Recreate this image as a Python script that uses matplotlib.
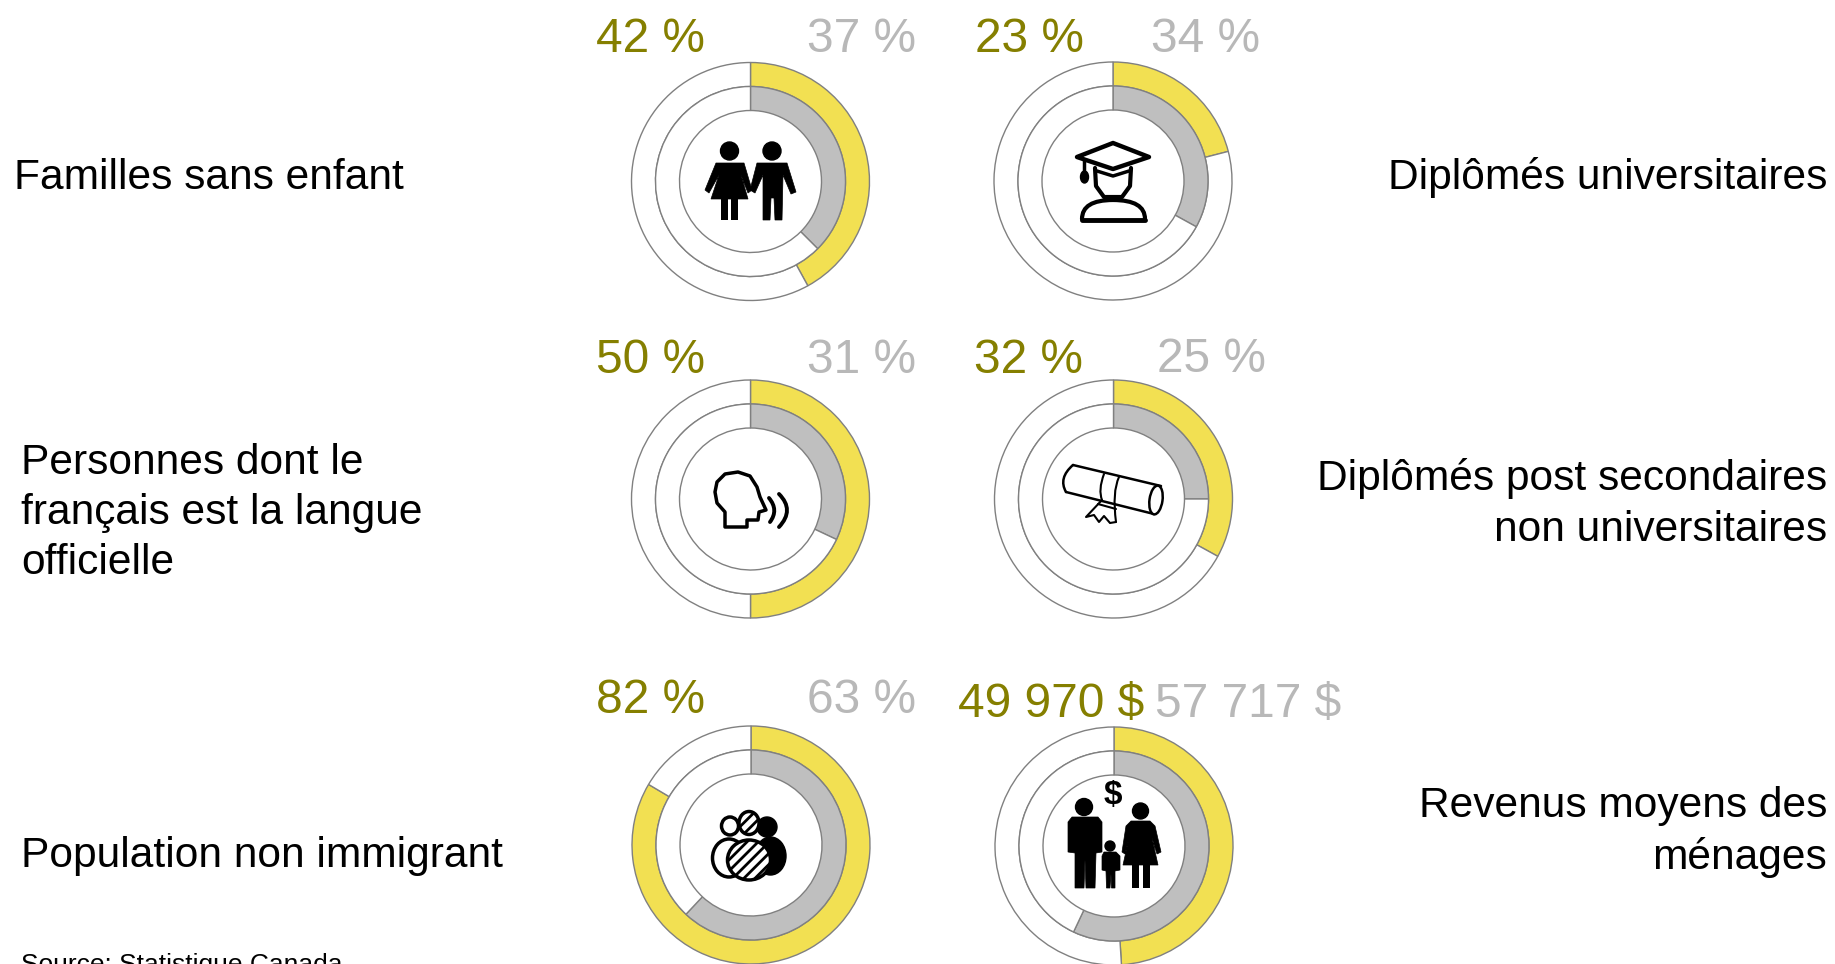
import matplotlib
matplotlib.use('Agg')
import matplotlib.pyplot as plt
from matplotlib.patches import Circle, Ellipse, Polygon, Rectangle, PathPatch
from matplotlib.path import Path

W = 1835
H = 964

plt.rcParams['font.family'] = ['Liberation Sans', 'DejaVu Sans']
plt.rcParams['hatch.linewidth'] = 2

# share of each ring as drawn, clockwise from 12 o'clock
outer_vals = [42, 21, 50, 33, 83.5, 49]
inner_vals = [37.5, 33, 32, 25, 62, 57]
outer_labels = ['42 %', '23 %', '50 %', '32 %', '82 %', '49 970 $']
inner_labels = ['37 %', '34 %', '31 %', '25 %', '63 %', '57 717 $']
left_labels = ['Familles sans enfant', 'Personnes dont le\nfrançais est la langue\nofficielle', 'Population non immigrant']
right_labels = ['Diplômés universitaires', 'Diplômés post secondaires\nnon universitaires', 'Revenus moyens des\nménages']
source = 'Source: Statistique Canada'

centers = [(750.5, 181.5), (1113, 181), (750.5, 499), (1113.5, 499), (751, 845), (1114, 846)]
outer_label_pos = [(596, 52), (975, 52), (596, 373), (974, 373), (596, 713), (958, 717)]
inner_label_pos = [(807, 52), (1151, 52), (807, 373), (1157, 372), (807, 713), (1155, 717)]

YELLOW = '#F2E052'
GREY = '#BFBFBF'
EDGE = '#808080'
OLIVE = '#857F00'
LIGHT = '#B8B8B8'

fig = plt.figure(figsize=(W / 100, H / 100), dpi=100)
ax = fig.add_axes([0, 0, 1, 1])


def Y(y):
    return H - y


def pts(points):
    return [(x, Y(y)) for x, y in points]


def ring(val, c, r, color):
    ax.pie([val, 100 - val], colors=[color, 'white'], startangle=90, counterclock=False,
           center=(c[0], Y(c[1])), radius=r, frame=True,
           wedgeprops=dict(width=24, edgecolor=EDGE, linewidth=1))


def poly(points):
    ax.add_patch(Polygon(pts(points), closed=True, facecolor='black', edgecolor='black', linewidth=0.5))


def head(x, y, r):
    ax.add_patch(Circle((x, Y(y)), r, color='black'))


def bar(x0, y0, x1, y1):
    ax.add_patch(Rectangle((x0, Y(y1)), x1 - x0, y1 - y0, color='black', linewidth=0))


def curve(points, lw=2.5):
    codes = [Path.MOVETO] + [Path.CURVE3] * (len(points) - 1)
    ax.add_patch(PathPatch(Path(pts(points), codes), facecolor='none', edgecolor='black', linewidth=lw,
                           capstyle='round', joinstyle='round'))


def line(points, lw=2.5, closed=False, fc='none'):
    ax.add_patch(Polygon(pts(points), closed=closed, facecolor=fc, edgecolor='black', linewidth=lw,
                         joinstyle='round', capstyle='round'))


def couple_icon():
    head(729.5, 151, 9)
    poly([(716, 163), (744, 163), (752, 190), (748, 193), (741, 175), (748, 199), (711, 199),
          (719, 175), (709, 193), (705, 190)])
    bar(720.5, 199, 728, 220)
    bar(730.5, 199, 738, 220)
    head(772, 151, 9)
    poly([(757, 163), (787, 163), (796, 192), (791, 194), (783, 175), (782, 220), (775, 220),
          (774, 198), (771, 198), (770, 220), (763, 220), (763, 175), (755, 193), (750, 190)])


def cap_icon():
    line([(1095, 168), (1096, 186), (1104, 197), (1122, 197), (1130, 186), (1131, 168)], lw=3)
    curve([(1082, 219), (1082, 200), (1113, 200), (1145, 200), (1145, 219)], lw=3)
    line([(1082, 220), (1145, 220)], lw=3.5)
    line([(1113, 143), (1149, 157), (1113, 169), (1077, 157)], lw=3.2, closed=True, fc='white')
    line([(1084, 160), (1084, 176)], lw=2.5)
    ax.add_patch(Ellipse((1084.5, Y(177)), 8, 12, color='black'))
    line([(1097, 171), (1113, 176), (1129, 171)], lw=2.5)


def speech_icon():
    line([(725, 527), (725, 512), (717, 503), (715, 492), (717, 482), (725, 474), (738, 472),
          (750, 476), (757, 487), (760, 497), (766, 510), (759, 512), (758, 520), (747, 520),
          (747, 527)], lw=2.5, closed=True)
    curve([(769, 498), (779, 510), (770, 522)], lw=2.8)
    curve([(779, 494), (795, 510), (779, 527)], lw=2.8)


def diploma_icon():
    line([(1073, 465), (1161, 486)], lw=1.8)
    line([(1066, 492), (1154, 514)], lw=1.8)
    curve([(1073, 465), (1058, 478), (1066, 492)], lw=1.8)
    ax.add_patch(Ellipse((1156, Y(500)), 13, 29, angle=-8, facecolor='white', edgecolor='black', linewidth=1.8))
    curve([(1104, 474), (1098, 490), (1102, 500)], lw=1.5)
    curve([(1119, 477), (1112, 492), (1116, 522)], lw=1.5)
    line([(1102, 500), (1086, 517), (1094, 515), (1099, 522), (1104, 516), (1110, 523), (1116, 522)], lw=1.5)
    line([(1098, 504), (1116, 509)], lw=1.5)


def group_icon():
    ax.add_patch(Ellipse((770.5, Y(856)), 31, 38, color='black'))
    head(767, 827, 10)
    ax.add_patch(Ellipse((729, Y(858)), 33, 38, facecolor='white', edgecolor='black', linewidth=2.5))
    ax.add_patch(Ellipse((730, Y(826)), 17, 18, facecolor='white', edgecolor='black', linewidth=2.5))
    ax.add_patch(Ellipse((749, Y(860)), 43, 40, facecolor='white', edgecolor='black', linewidth=2.5, hatch='///'))
    ax.add_patch(Ellipse((749, Y(823)), 20, 23, facecolor='white', edgecolor='black', linewidth=2.5, hatch='///'))


def family_icon():
    ax.text(1113, Y(804), '$', fontsize=24, fontweight='bold', ha='center', va='baseline', color='black')
    head(1084, 807, 8.5)
    poly([(1072, 817), (1098, 817), (1102, 822), (1102, 852), (1096, 853), (1095, 888), (1086, 888),
          (1085, 860), (1084, 888), (1075, 888), (1075, 853), (1068, 852), (1068, 822)])
    head(1140.5, 811, 8)
    poly([(1131, 821), (1150, 821), (1155, 826), (1161, 852), (1157, 854), (1152, 838), (1158, 865),
          (1123, 865), (1129, 838), (1125, 854), (1122, 852), (1126, 826)])
    bar(1132, 865, 1139, 888)
    bar(1143, 865, 1150, 888)
    head(1110, 846, 5)
    poly([(1104, 852), (1116, 852), (1120, 856), (1120, 870), (1115, 871), (1115, 888), (1111.5, 888),
          (1111, 874), (1110, 888), (1106.5, 888), (1106, 871), (1102, 870), (1102, 856)])


for i, c in enumerate(centers):
    ring(outer_vals[i], c, 119, YELLOW)
    ring(inner_vals[i], c, 95, GREY)

ax.set_xlim(0, W)
ax.set_ylim(0, H)
ax.set_aspect('auto')
ax.axis('off')

for draw in [couple_icon, cap_icon, speech_icon, diploma_icon, group_icon, family_icon]:
    draw()

for (x, y), s in zip(outer_label_pos, outer_labels):
    ax.text(x, Y(y), s, fontsize=34.5, color=OLIVE, ha='left', va='baseline')
for (x, y), s in zip(inner_label_pos, inner_labels):
    ax.text(x, Y(y), s, fontsize=34.5, color=LIGHT, ha='left', va='baseline')

ax.text(14, Y(178), left_labels[0], fontsize=30.6, ha='left', va='center')
ax.text(21, Y(513), left_labels[1], fontsize=30.6, ha='left', va='center', linespacing=1.33)
ax.text(21, Y(856), left_labels[2], fontsize=30.6, ha='left', va='center')
ax.text(1827, Y(177), right_labels[0], fontsize=30.6, ha='right', va='center')
ax.text(1827, Y(504), right_labels[1], fontsize=30.6, ha='right', va='center', linespacing=1.33)
ax.text(1827, Y(832), right_labels[2], fontsize=30.6, ha='right', va='center', linespacing=1.33)
ax.text(21, Y(972), source, fontsize=19, ha='left', va='baseline')

fig.savefig('out.png', dpi=100)
